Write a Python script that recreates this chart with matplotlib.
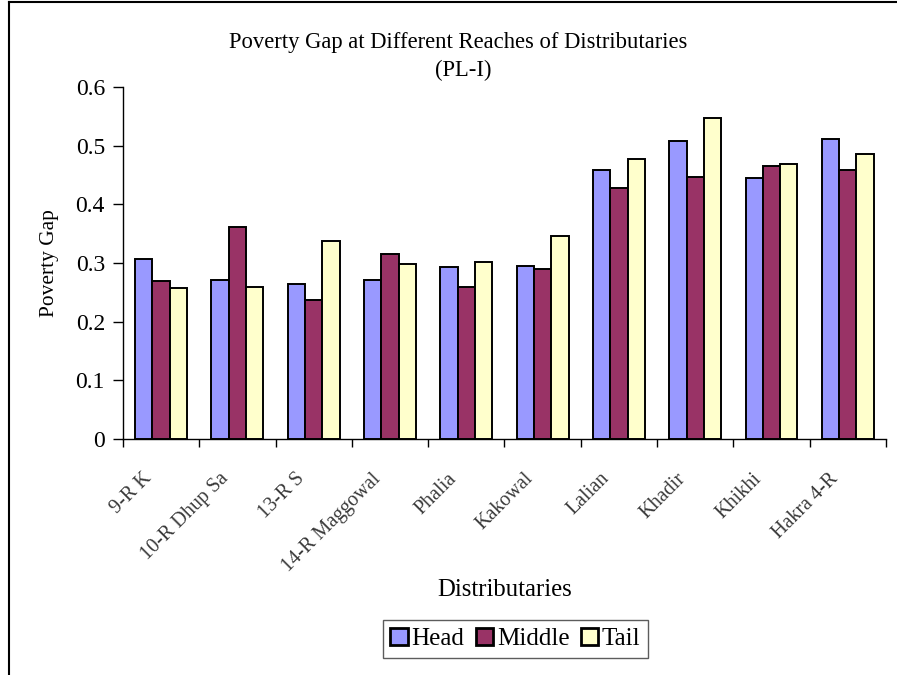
import matplotlib
matplotlib.use("Agg")
import matplotlib.pyplot as plt
from matplotlib.lines import Line2D
import numpy as np

categories = ["9-R K", "10-R Dhup Sa", "13-R S", "14-R Maggowal", "Phalia",
              "Kakowal", "Lalian", "Khadir", "Khikhi", "Hakra 4-R"]
head = [0.306, 0.271, 0.264, 0.271, 0.293, 0.295, 0.458, 0.508, 0.445, 0.511]
middle = [0.270, 0.361, 0.237, 0.315, 0.259, 0.290, 0.428, 0.446, 0.465, 0.458]
tail = [0.257, 0.259, 0.337, 0.298, 0.302, 0.346, 0.477, 0.548, 0.468, 0.485]
series_names = ["Head", "Middle", "Tail"]
colors = ["#9999FF", "#993366", "#FFFFCC"]

plt.rcParams['font.family'] = ['Liberation Serif', 'DejaVu Serif']

fig = plt.figure(figsize=(8.97, 6.75), dpi=100)
ax = fig.add_axes([0.1371, 0.3496, 0.8506, 0.5215])

x = np.arange(len(categories))
w = 0.227
for i, (vals, name, c) in enumerate(zip([head, middle, tail], series_names, colors)):
    ax.bar(x + (i - 1) * w, vals, width=w, color=c, edgecolor='black',
           linewidth=1.4, label=name, zorder=3)

ax.set_xlim(-0.5, len(categories) - 0.5)
ax.set_ylim(0, 0.6)
ax.set_yticks(np.arange(0, 0.61, 0.1))
ax.set_yticklabels(["0", "0.1", "0.2", "0.3", "0.4", "0.5", "0.6"], fontsize=17)
ax.tick_params(axis='y', direction='out', length=7, width=1, pad=6)

ax.set_xticks(np.arange(-0.5, len(categories), 1.0))
ax.set_xticklabels([])
ax.tick_params(axis='x', direction='out', length=6, width=1)
for xi, lab in zip(x, categories):
    ax.annotate(lab, xy=(xi - 0.16, 0), xycoords=('data', 'axes fraction'),
                xytext=(0, -37), textcoords='offset pixels',
                rotation=45, rotation_mode='anchor', ha='right', va='center',
                fontsize=14.5, color='#3a3a3a')

for s in ['top', 'right']:
    ax.spines[s].set_visible(False)
ax.spines['left'].set_linewidth(1)
ax.spines['bottom'].set_linewidth(1)

ax.set_ylabel("Poverty Gap", fontsize=15.4, labelpad=12)
fig.text(0.563, 0.126, "Distributaries", ha='center', va='center', fontsize=17.8)
fig.text(0.511, 0.937, "Poverty Gap at Different Reaches of Distributaries",
         ha='center', va='center', fontsize=16.3)
fig.text(0.516, 0.895, "(PL-I)", ha='center', va='center', fontsize=16.3)

leg = ax.legend(loc='center', bbox_to_anchor=(0.5745, 0.0533),
                bbox_transform=fig.transFigure, ncol=3, fontsize=18,
                frameon=True, fancybox=False, edgecolor='#333333',
                handlelength=0.7, handleheight=0.7, handletextpad=0.15,
                columnspacing=0.45, borderpad=0.3, borderaxespad=0)
leg.get_frame().set_linewidth(1)
for p in leg.get_patches():
    p.set_linewidth(2)

# border lines of chart area
fig.add_artist(Line2D([0.0105, 0.0105], [0, 0.997], color='black', linewidth=1.5,
                      transform=fig.transFigure))
fig.add_artist(Line2D([0.0105, 1.0], [0.997, 0.997], color='black', linewidth=1.5,
                      transform=fig.transFigure))

fig.savefig("out.png", dpi=100)
